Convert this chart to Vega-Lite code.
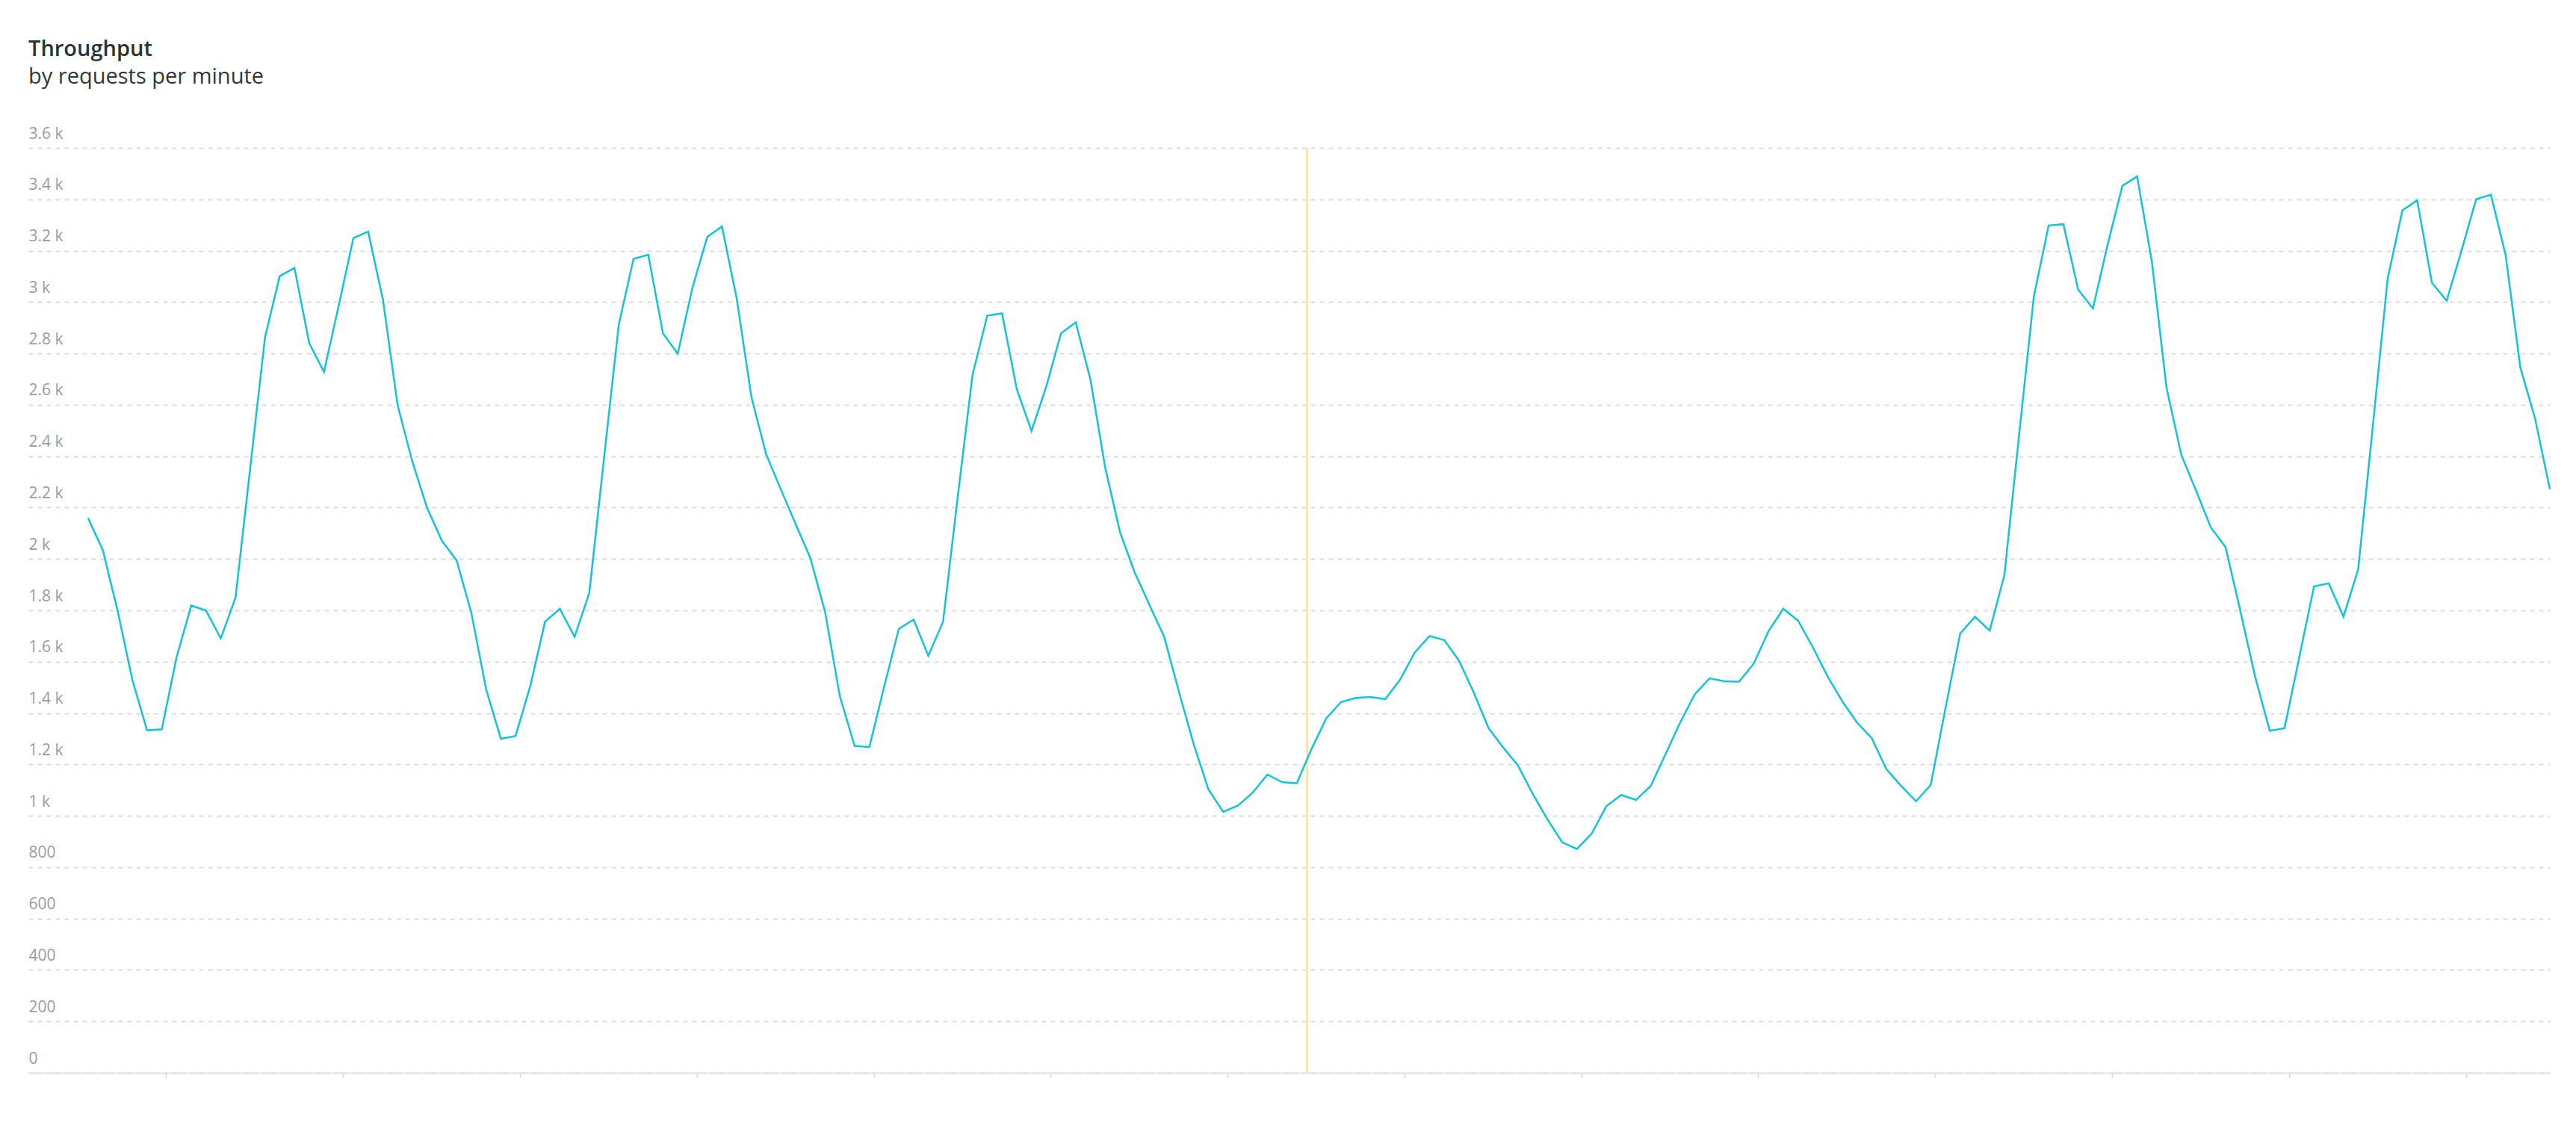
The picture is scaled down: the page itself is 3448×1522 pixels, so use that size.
{
  "$schema": "https://vega.github.io/schema/vega-lite/v6.json",
  "width": 3375,
  "height": 1238,
  "autosize": {"type": "none"},
  "padding": {"left": 38, "top": 198, "right": 35, "bottom": 86},
  "background": "white",
  "title": {
    "text": "Throughput",
    "subtitle": "by requests per minute",
    "anchor": "start",
    "frame": "group",
    "offset": 50,
    "font": "Open Sans",
    "fontSize": 29,
    "fontWeight": 600,
    "color": "#2a3333",
    "subtitleFont": "Open Sans",
    "subtitleFontSize": 29,
    "subtitleColor": "#2f3838",
    "subtitlePadding": 8
  },
  "datasets": {
    "throughput": [
      {"t": 0, "rpm": 2159}, {"t": 1, "rpm": 2034}, {"t": 2, "rpm": 1799}, {"t": 3, "rpm": 1530},
      {"t": 4, "rpm": 1333}, {"t": 5, "rpm": 1337}, {"t": 6, "rpm": 1617}, {"t": 7, "rpm": 1819},
      {"t": 8, "rpm": 1799}, {"t": 9, "rpm": 1691}, {"t": 10, "rpm": 1849}, {"t": 11, "rpm": 2355},
      {"t": 12, "rpm": 2862}, {"t": 13, "rpm": 3101}, {"t": 14, "rpm": 3133}, {"t": 15, "rpm": 2840},
      {"t": 16, "rpm": 2728}, {"t": 17, "rpm": 2986}, {"t": 18, "rpm": 3249}, {"t": 19, "rpm": 3274},
      {"t": 20, "rpm": 3010}, {"t": 21, "rpm": 2598}, {"t": 22, "rpm": 2378}, {"t": 23, "rpm": 2198},
      {"t": 24, "rpm": 2071}, {"t": 25, "rpm": 1994}, {"t": 26, "rpm": 1790}, {"t": 27, "rpm": 1493},
      {"t": 28, "rpm": 1300}, {"t": 29, "rpm": 1311}, {"t": 30, "rpm": 1506}, {"t": 31, "rpm": 1756},
      {"t": 32, "rpm": 1806}, {"t": 33, "rpm": 1697}, {"t": 34, "rpm": 1867}, {"t": 35, "rpm": 2392},
      {"t": 36, "rpm": 2912}, {"t": 37, "rpm": 3168}, {"t": 38, "rpm": 3184}, {"t": 39, "rpm": 2878},
      {"t": 40, "rpm": 2799}, {"t": 41, "rpm": 3056}, {"t": 42, "rpm": 3253}, {"t": 43, "rpm": 3294},
      {"t": 44, "rpm": 3014}, {"t": 45, "rpm": 2630}, {"t": 46, "rpm": 2407}, {"t": 47, "rpm": 2270},
      {"t": 48, "rpm": 2136}, {"t": 49, "rpm": 2003}, {"t": 50, "rpm": 1793}, {"t": 51, "rpm": 1465},
      {"t": 52, "rpm": 1272}, {"t": 53, "rpm": 1268}, {"t": 54, "rpm": 1502}, {"t": 55, "rpm": 1728},
      {"t": 56, "rpm": 1764}, {"t": 57, "rpm": 1623}, {"t": 58, "rpm": 1756}, {"t": 59, "rpm": 2244},
      {"t": 60, "rpm": 2717}, {"t": 61, "rpm": 2947}, {"t": 62, "rpm": 2956}, {"t": 63, "rpm": 2661},
      {"t": 64, "rpm": 2498}, {"t": 65, "rpm": 2671}, {"t": 66, "rpm": 2878}, {"t": 67, "rpm": 2921},
      {"t": 68, "rpm": 2698}, {"t": 69, "rpm": 2355}, {"t": 70, "rpm": 2105}, {"t": 71, "rpm": 1947},
      {"t": 72, "rpm": 1821}, {"t": 73, "rpm": 1697}, {"t": 74, "rpm": 1483}, {"t": 75, "rpm": 1279},
      {"t": 76, "rpm": 1103}, {"t": 77, "rpm": 1016}, {"t": 78, "rpm": 1040}, {"t": 79, "rpm": 1090},
      {"t": 80, "rpm": 1161}, {"t": 81, "rpm": 1131}, {"t": 82, "rpm": 1127}, {"t": 83, "rpm": 1261},
      {"t": 84, "rpm": 1380}, {"t": 85, "rpm": 1443}, {"t": 86, "rpm": 1459}, {"t": 87, "rpm": 1463},
      {"t": 88, "rpm": 1454}, {"t": 89, "rpm": 1530}, {"t": 90, "rpm": 1636}, {"t": 91, "rpm": 1700},
      {"t": 92, "rpm": 1684}, {"t": 93, "rpm": 1604}, {"t": 94, "rpm": 1480}, {"t": 95, "rpm": 1342},
      {"t": 96, "rpm": 1266}, {"t": 97, "rpm": 1196}, {"t": 98, "rpm": 1086}, {"t": 99, "rpm": 986},
      {"t": 100, "rpm": 897}, {"t": 101, "rpm": 871}, {"t": 102, "rpm": 931}, {"t": 103, "rpm": 1038},
      {"t": 104, "rpm": 1081}, {"t": 105, "rpm": 1062}, {"t": 106, "rpm": 1116}, {"t": 107, "rpm": 1239},
      {"t": 108, "rpm": 1363}, {"t": 109, "rpm": 1474}, {"t": 110, "rpm": 1535}, {"t": 111, "rpm": 1524},
      {"t": 112, "rpm": 1522}, {"t": 113, "rpm": 1593}, {"t": 114, "rpm": 1719}, {"t": 115, "rpm": 1806},
      {"t": 116, "rpm": 1760}, {"t": 117, "rpm": 1656}, {"t": 118, "rpm": 1543}, {"t": 119, "rpm": 1446},
      {"t": 120, "rpm": 1363}, {"t": 121, "rpm": 1302}, {"t": 122, "rpm": 1181}, {"t": 123, "rpm": 1116},
      {"t": 124, "rpm": 1057}, {"t": 125, "rpm": 1120}, {"t": 126, "rpm": 1419}, {"t": 127, "rpm": 1710},
      {"t": 128, "rpm": 1775}, {"t": 129, "rpm": 1721}, {"t": 130, "rpm": 1938}, {"t": 131, "rpm": 2485},
      {"t": 132, "rpm": 3023}, {"t": 133, "rpm": 3298}, {"t": 134, "rpm": 3303}, {"t": 135, "rpm": 3049},
      {"t": 136, "rpm": 2975}, {"t": 137, "rpm": 3223}, {"t": 138, "rpm": 3452}, {"t": 139, "rpm": 3489},
      {"t": 140, "rpm": 3158}, {"t": 141, "rpm": 2665}, {"t": 142, "rpm": 2405}, {"t": 143, "rpm": 2266},
      {"t": 144, "rpm": 2123}, {"t": 145, "rpm": 2046}, {"t": 146, "rpm": 1799}, {"t": 147, "rpm": 1543},
      {"t": 148, "rpm": 1331}, {"t": 149, "rpm": 1341}, {"t": 150, "rpm": 1617}, {"t": 151, "rpm": 1893},
      {"t": 152, "rpm": 1905}, {"t": 153, "rpm": 1775}, {"t": 154, "rpm": 1960}, {"t": 155, "rpm": 2522},
      {"t": 156, "rpm": 3092}, {"t": 157, "rpm": 3357}, {"t": 158, "rpm": 3396}, {"t": 159, "rpm": 3075},
      {"t": 160, "rpm": 3005}, {"t": 161, "rpm": 3199}, {"t": 162, "rpm": 3400}, {"t": 163, "rpm": 3418},
      {"t": 164, "rpm": 3183}, {"t": 165, "rpm": 2745}, {"t": 166, "rpm": 2546}, {"t": 167, "rpm": 2272}
    ],
    "marker": [{"t": 82.7}]
  },
  "layer": [
    {
      "data": {"name": "marker"},
      "mark": {"type": "rule", "color": "#fbe4b2", "strokeWidth": 3},
      "encoding": {
        "x": {"field": "t", "type": "quantitative"}
      }
    },
    {
      "data": {"name": "throughput"},
      "mark": {"type": "line", "color": "#13c3da", "strokeWidth": 2.5, "strokeJoin": "miter"},
      "encoding": {
        "x": {
          "field": "t",
          "type": "quantitative",
          "scale": {"domain": [-4.05, 167], "nice": false, "zero": false},
          "axis": {
            "title": null,
            "labels": false,
            "grid": false,
            "domain": true,
            "domainColor": "#e2e2e2",
            "domainWidth": 2,
            "ticks": true,
            "tickColor": "#d4d4d4",
            "tickSize": 6,
            "tickWidth": 1.5,
            "values": [5.3, 17.3, 29.3, 41.3, 53.3, 65.3, 77.3, 89.3, 101.3, 113.3, 125.3, 137.3, 149.3, 161.3]
          }
        },
        "y": {
          "field": "rpm",
          "type": "quantitative",
          "scale": {"domain": [0, 3600], "nice": false},
          "axis": {
            "title": null,
            "values": [0, 200, 400, 600, 800, 1000, 1200, 1400, 1600, 1800, 2000, 2200, 2400, 2600, 2800, 3000, 3200, 3400, 3600],
            "labelExpr": "datum.value >= 1000 ? (datum.value / 1000) + ' k' : datum.value + ''",
            "domain": false,
            "ticks": false,
            "tickSize": 0,
            "grid": true,
            "gridColor": "#dcdcdc",
            "gridWidth": 2,
            "gridDash": [6, 6],
            "labelAlign": "left",
            "labelBaseline": "bottom",
            "labelPadding": 0,
            "labelOffset": -9,
            "labelFont": "Open Sans",
            "labelFontSize": 21,
            "labelColor": "#979d9d",
            "labelOverlap": false,
            "labelFlush": false,
            "labelBound": false
          }
        }
      }
    }
  ],
  "config": {
    "view": {"stroke": null}
  }
}
